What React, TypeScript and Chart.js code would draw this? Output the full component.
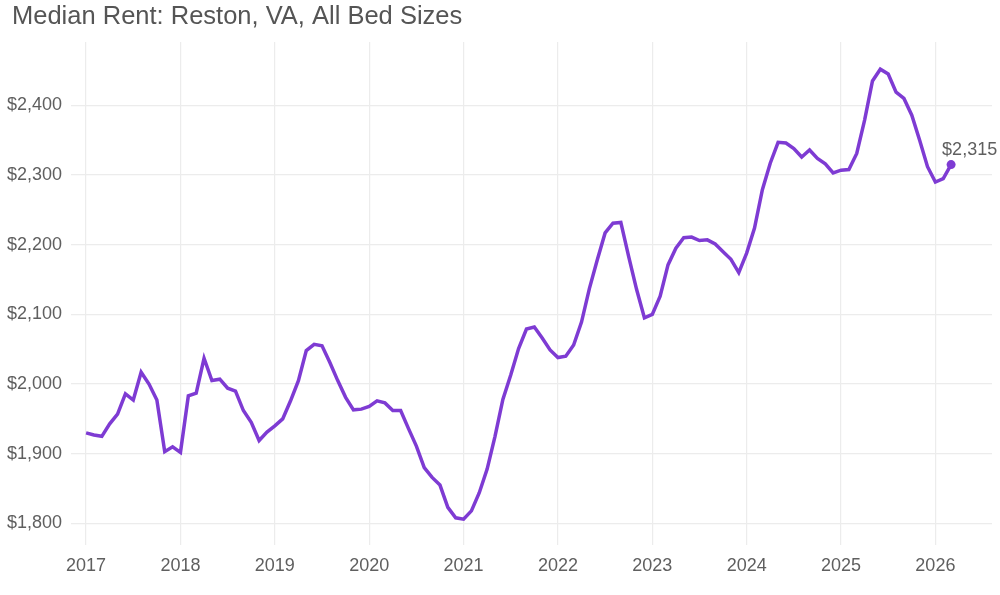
import React, { useEffect, useRef } from "react";
import { Chart, registerables } from "chart.js";

Chart.register(...registerables);

// Monthly median rent, Jan 2017 .. Mar 2026
const startYear = 2017;
const rent2017 = [1930, 1927, 1925, 1943, 1957, 1986, 1977, 2017, 2000, 1977, 1903, 1910];
const rent2018 = [1902, 1983, 1987, 2037, 2005, 2007, 1994, 1990, 1962, 1945, 1919, 1931];
const rent2019 = [1940, 1950, 1976, 2005, 2048, 2057, 2055, 2031, 2005, 1981, 1963, 1964];
const rent2020 = [1968, 1976, 1973, 1962, 1962, 1936, 1911, 1880, 1866, 1855, 1823, 1808];
const rent2021 = [1806, 1818, 1844, 1878, 1925, 1978, 2013, 2051, 2079, 2082, 2066, 2049];
const rent2022 = [2038, 2040, 2056, 2089, 2137, 2178, 2217, 2231, 2232, 2183, 2136, 2095];
const rent2023 = [2100, 2126, 2171, 2195, 2210, 2211, 2206, 2207, 2201, 2190, 2179, 2160];
const rent2024 = [2188, 2224, 2279, 2317, 2347, 2346, 2338, 2326, 2336, 2324, 2316, 2303];
const rent2025 = [2307, 2308, 2331, 2379, 2435, 2452, 2445, 2419, 2410, 2386, 2350, 2312];
const rent2026 = [2290, 2295, 2315];

const yearTicks = [2017, 2018, 2019, 2020, 2021, 2022, 2023, 2024, 2025, 2026];
const rentTicks = [1800, 1900, 2000, 2100, 2200, 2300, 2400];
const chartTitle = "Median Rent: Reston, VA, All Bed Sizes";

const FONT = "'Liberation Sans', Arial, Helvetica, sans-serif";
const LINE_COLOR = "#7e3bd3";
const TEXT_COLOR = "#5f5f5f";
const GRID_COLOR = "#ececec";

const fmtMoney = (v: number) => "$" + Math.round(v).toLocaleString("en-US");

export default function App() {
  const canvasRef = useRef<HTMLCanvasElement | null>(null);

  useEffect(() => {
    const canvas = canvasRef.current;
    if (!canvas) return;

    const series = [
      rent2017, rent2018, rent2019, rent2020, rent2021,
      rent2022, rent2023, rent2024, rent2025, rent2026,
    ].flat();
    const points = series.map((v, i) => ({ x: startYear + i / 12, y: v }));
    const lastIndex = points.length - 1;

    const titleAndLabel = {
      id: "titleAndLabel",
      afterDraw(chart: any) {
        const ctx = chart.ctx;
        ctx.save();
        ctx.font = `25.5px ${FONT}`;
        ctx.fillStyle = "#555555";
        ctx.textAlign = "left";
        ctx.textBaseline = "alphabetic";
        ctx.fillText(chartTitle, 12, 23.5);
        ctx.restore();
      },
      afterDatasetsDraw(chart: any) {
        const meta = chart.getDatasetMeta(0);
        const el = meta.data[lastIndex];
        if (!el) return;
        const ctx = chart.ctx;
        ctx.save();
        ctx.font = `18px ${FONT}`;
        ctx.fillStyle = TEXT_COLOR;
        ctx.textAlign = "left";
        ctx.textBaseline = "middle";
        ctx.fillText(fmtMoney(series[lastIndex]), el.x - 9, el.y - 15);
        ctx.restore();
      },
    };

    const chart = new Chart(canvas, {
      type: "line",
      data: {
        datasets: [
          {
            data: points,
            borderColor: LINE_COLOR,
            backgroundColor: LINE_COLOR,
            borderWidth: 3.5,
            tension: 0,
            pointRadius: (c: any) => (c.dataIndex === lastIndex ? 4.5 : 0),
            pointHoverRadius: 0,
            pointBorderWidth: 0,
            fill: false,
          },
        ],
      },
      options: {
        responsive: false,
        animation: false,
        devicePixelRatio: 1,
        layout: { padding: { left: 0, right: 8, top: 42, bottom: 0 } },
        plugins: {
          legend: { display: false },
          tooltip: { enabled: false },
          title: { display: false },
        },
        scales: {
          x: {
            type: "linear",
            min: 2016.84,
            max: 2026.6,
            afterBuildTicks: (s: any) => {
              s.ticks = yearTicks.map((v) => ({ value: v }));
            },
            afterFit: (s: any) => {
              s.height = 50;
            },
            ticks: {
              color: TEXT_COLOR,
              font: { family: FONT, size: 18 },
              padding: 10,
              maxRotation: 0,
              autoSkip: false,
              callback: (v: any) => String(v),
            },
            grid: { color: GRID_COLOR, lineWidth: 1.2, drawTicks: false },
            border: { display: false },
          },
          y: {
            type: "linear",
            min: 1769,
            max: 2491,
            afterBuildTicks: (s: any) => {
              s.ticks = rentTicks.map((v) => ({ value: v }));
            },
            afterFit: (s: any) => {
              s.width = 71;
            },
            ticks: {
              color: TEXT_COLOR,
              font: { family: FONT, size: 18 },
              padding: 9,
              callback: (v: any) => fmtMoney(Number(v)),
            },
            grid: { color: GRID_COLOR, lineWidth: 1.2, drawTicks: false },
            border: { display: false },
          },
        },
      },
      plugins: [titleAndLabel],
    });

    return () => chart.destroy();
  }, []);

  return (
    <div style={{ position: "fixed", left: 0, top: 0, width: 1000, height: 595, background: "#ffffff" }}>
      <canvas ref={canvasRef} width={1000} height={595} style={{ display: "block" }} />
    </div>
  );
}
